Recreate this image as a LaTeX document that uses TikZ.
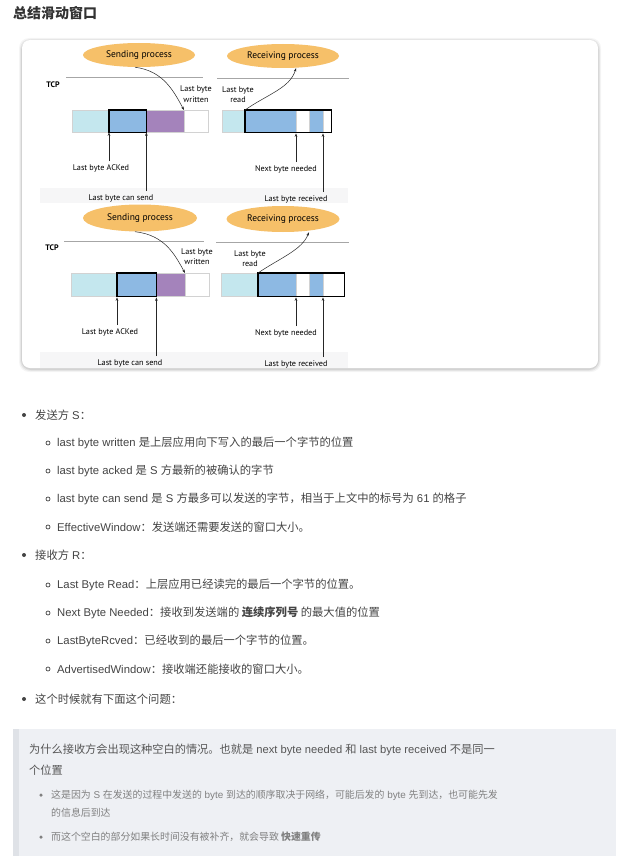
\documentclass[tikz,border=0pt]{standalone}
\usepackage{fontspec}
\setmainfont{Liberation Sans}
\newfontfamily\cjk{Noto Sans CJK SC}
\newfontfamily\dgf{PT Sans}
\usetikzlibrary{arrows.meta,shapes.geometric}
\definecolor{tx}{HTML}{444444}
\definecolor{ttl}{HTML}{333333}
\definecolor{qbg}{HTML}{EEF0F4}
\definecolor{qbar}{HTML}{DFE2E7}
\definecolor{qtx}{HTML}{555555}
\definecolor{qsub}{HTML}{808080}
\definecolor{cyanseg}{HTML}{C4E7EE}
\definecolor{blueseg}{HTML}{8DB9E3}
\definecolor{purpseg}{HTML}{A483BB}
\definecolor{orng}{HTML}{F6C069}
\definecolor{bandgray}{HTML}{F6F6F7}
\begin{document}
\begin{tikzpicture}[x=1pt,y=-1pt,
  txt/.style={anchor=west,inner sep=0,font=\fontsize{11.3}{14}\selectfont,text=tx},
  qtxt/.style={anchor=west,inner sep=0,font=\fontsize{11.2}{14}\selectfont,text=qtx},
  qsubtxt/.style={anchor=west,inner sep=0,font=\fontsize{9.9}{13}\selectfont,text=qsub},
  dot/.style={circle,fill=tx,inner sep=0,minimum size=4},
  odot/.style={circle,draw=tx,line width=0.7pt,inner sep=0,minimum size=4},
  qdot/.style={circle,fill=qsub,inner sep=0,minimum size=3.5},
  proc/.style={ellipse,fill=orng,inner sep=0,font=\dgf\fontsize{9.5}{11}\selectfont,text=black},
  lbl/.style={inner sep=0,font=\dgf\fontsize{8.2}{10.5}\selectfont,text=black,align=center},
  seg/.style={draw=gray!35,line width=0.4pt,inner sep=0,anchor=north west},
  thick/.style={draw=black,line width=1.1pt},
  arr/.style={draw=black!85,line width=0.5pt,-{Stealth[length=3.5pt,width=2.6pt]}},
  rule/.style={draw=gray!70,line width=0.5pt}]
\useasboundingbox (0,0) rectangle (616,856);
\fill[white] (0,0) rectangle (616,856);

% title
\node[anchor=west,inner sep=0,font=\cjk\bfseries\fontsize{14}{16}\selectfont,text=ttl] (title) at (13,13) {总结滑动窗口};

% card with shadow
\foreach \s/\o in {3/0.04,2/0.06,1/0.08}{
  \fill[black,opacity=\o,rounded corners=10] (22-\s,40-\s+1) rectangle (598+\s,368+\s+1);
}
\fill[white,rounded corners=8] (22,40) rectangle (598,368);

% gray bands at the bottom of each picture
\fill[bandgray] (40,188) rectangle (348,203);
\fill[bandgray] (40,352) rectangle (348,368);

% ================= diagram 1 =================
\node[proc,minimum width=112,minimum height=24] (sp1) at (139,55) {Sending process};
\node[proc,minimum width=112,minimum height=24] (rp1) at (283,56) {Receiving process};
\coordinate (l1a) at (66,77); \coordinate (l1b) at (203,77);
\coordinate (l1c) at (217,78); \coordinate (l1d) at (349,78);
\draw[rule] (l1a) -- (l1b);
\draw[rule] (l1c) -- (l1d);
\node[lbl,font=\dgf\bfseries\fontsize{8}{10}\selectfont] (tcp1) at (53,85) {TCP};
\node[lbl] (lbw1) at (196,94) {Last byte\\written};
\node[lbl] (lbr1) at (238,94.5) {Last byte\\read};

\node[seg,fill=cyanseg,minimum width=37,minimum height=22] (a1) at (72,110) {};
\node[seg,fill=blueseg,minimum width=37,minimum height=22] (b1) at (109,110) {};
\node[seg,fill=purpseg,minimum width=38,minimum height=22] (c1) at (146,110) {};
\node[seg,fill=white,minimum width=24,minimum height=22] (d1) at (184,110) {};
\draw[thick] (b1.north west) rectangle (b1.south east);

\node[seg,fill=cyanseg,minimum width=23,minimum height=22] (ra1) at (222,110) {};
\node[seg,fill=blueseg,minimum width=51,minimum height=22] (rb1) at (245,110) {};
\node[seg,fill=white,minimum width=13,minimum height=22] (rc1) at (296,110) {};
\node[seg,fill=blueseg,minimum width=14,minimum height=22] (rd1) at (309,110) {};
\node[seg,fill=white,minimum width=8,minimum height=22] (re1) at (323,110) {};
\draw[thick] (rb1.north west) rectangle (re1.south east);

\node[lbl] (ack1) at (101,168) {Last byte ACKed};
\node[lbl] (cs1) at (121,198) {Last byte can send};
\node[lbl] (nbn1) at (286,169) {Next byte needed};
\node[lbl] (lbrc1) at (296,199) {Last byte received};
\draw[arr] (b1.south west |- ack1.north) ++(0,-3) -- (b1.south west);
\draw[arr] (b1.south east |- cs1.north) ++(0,-3) -- (b1.south east);
\draw[arr] (rc1.south west |- nbn1.north) ++(0,-3) -- ([yshift=-1pt]rc1.south west);
\draw[arr] (re1.south west |- lbrc1.north) ++(0,-3) -- ([yshift=-1pt]re1.south west);

\draw[arr] ([xshift=-4pt]sp1.south) .. controls (164,71) and (174,92) .. (d1.north west);
\draw[arr] (rb1.north west) .. controls (268,94) and (290,88) .. ([xshift=13pt]rp1.south);

% ================= diagram 2 =================
\node[proc,minimum width=114,minimum height=27] (sp2) at (140,218) {Sending process};
\node[proc,minimum width=113,minimum height=26] (rp2) at (283,219) {Receiving process};
\coordinate (l2a) at (64,241); \coordinate (l2b) at (204,241);
\coordinate (l2c) at (216,242); \coordinate (l2d) at (349,242);
\draw[rule] (l2a) -- (l2b);
\draw[rule] (l2c) -- (l2d);
\node[lbl,font=\dgf\bfseries\fontsize{8}{10}\selectfont] (tcp2) at (52,248) {TCP};
\node[lbl] (lbw2) at (197,256.5) {Last byte\\written};
\node[lbl] (lbr2) at (250,258.5) {Last byte\\read};

\node[seg,fill=cyanseg,minimum width=46,minimum height=23] (a2) at (71,273) {};
\node[seg,fill=blueseg,minimum width=39,minimum height=23] (b2) at (117,273) {};
\node[seg,fill=purpseg,minimum width=29,minimum height=23] (c2) at (156,273) {};
\node[seg,fill=white,minimum width=24,minimum height=23] (d2) at (185,273) {};
\draw[thick] (b2.north west) rectangle (b2.south east);

\node[seg,fill=cyanseg,minimum width=37,minimum height=23] (ra2) at (221,273) {};
\node[seg,fill=blueseg,minimum width=38,minimum height=23] (rb2) at (258,273) {};
\node[seg,fill=white,minimum width=13,minimum height=23] (rc2) at (296,273) {};
\node[seg,fill=blueseg,minimum width=14,minimum height=23] (rd2) at (309,273) {};
\node[seg,fill=white,minimum width=21,minimum height=23] (re2) at (323,273) {};
\draw[thick] (rb2.north west) rectangle (re2.south east);

\node[lbl] (ack2) at (110,332) {Last byte ACKed};
\node[lbl] (cs2) at (130,363) {Last byte can send};
\node[lbl] (nbn2) at (286,333) {Next byte needed};
\node[lbl] (lbrc2) at (296,364) {Last byte received};
\draw[arr] (b2.south west |- ack2.north) ++(0,-3) -- ([yshift=-1pt]b2.south west);
\draw[arr] (b2.south east |- cs2.north) ++(0,-3) -- ([yshift=-1pt]b2.south east);
\draw[arr] (rc2.south west |- nbn2.north) ++(0,-3) -- ([yshift=-1pt]rc2.south west);
\draw[arr] (re2.south west |- lbrc2.north) ++(0,-3) -- ([yshift=-1pt]re2.south west);

\draw[arr] ([xshift=-5pt]sp2.south) .. controls (165,235) and (175,255) .. (d2.north west);
\draw[arr] (rb2.north west) .. controls (280,258) and (302,250) .. ([xshift=26pt]rp2.south);

% ================= text list =================
\node[dot] (d01) at (24,415) {};
\node[txt] (t01) at (35,415) {{\cjk 发送方} S{\cjk ：}};
\node[odot] (o02) at (48,443) {};
\node[txt] (t02) at (57,443) {last byte written {\cjk 是上层应用向下写入的最后一个字节的位置}};
\node[odot] (o03) at (48,471) {};
\node[txt] (t03) at (57,471) {last byte acked {\cjk 是} S {\cjk 方最新的被确认的字节}};
\node[odot] (o04) at (48,499) {};
\node[txt] (t04) at (57,499) {last byte can send {\cjk 是} S {\cjk 方最多可以发送的字节，相当于上文中的标号为} 61 {\cjk 的格子}};
\node[odot] (o05) at (48,527) {};
\node[txt] (t05) at (57,527) {EffectiveWindow{\cjk ：发送端还需要发送的窗口大小。}};
\node[dot] (d06) at (24,555) {};
\node[txt] (t06) at (35,555) {{\cjk 接收方} R{\cjk ：}};
\node[odot] (o07) at (48,585) {};
\node[txt] (t07) at (57,585) {Last Byte Read{\cjk ：上层应用已经读完的最后一个字节的位置。}};
\node[odot] (o08) at (48,613) {};
\node[txt] (t08) at (57,613) {Next Byte Needed{\cjk ：接收到发送端的 {\bfseries 连续序列号} 的最大值的位置}};
\node[odot] (o09) at (48,641) {};
\node[txt] (t09) at (57,641) {LastByteRcved{\cjk ：已经收到的最后一个字节的位置。}};
\node[odot] (o10) at (48,669) {};
\node[txt] (t10) at (57,669) {AdvertisedWindow{\cjk ：接收端还能接收的窗口大小。}};
\node[dot] (d11) at (24,699) {};
\node[txt] (t11) at (35,699) {{\cjk 这个时候就有下面这个问题：}};

% ================= blockquote =================
\fill[qbg] (13,729) rectangle (616,856);
\fill[qbar] (13,729) rectangle (19,856);
\node[qtxt] (q1) at (29,750) {{\cjk 为什么接收方会出现这种空白的情况。也就是} next byte needed {\cjk 和} last byte received {\cjk 不是同一}};
\node[qtxt] (q2) at (29,770) {{\cjk 个位置}};
\node[qdot] (qd1) at (41,795) {};
\node[qsubtxt] (q3) at (51,795) {{\cjk 这是因为} S {\cjk 在发送的过程中发送的} byte {\cjk 到达的顺序取决于网络，可能后发的} byte {\cjk 先到达，也可能先发}};
\node[qsubtxt] (q4) at (51,813) {{\cjk 的信息后到达}};
\node[qdot] (qd2) at (41,837) {};
\node[qsubtxt] (q5) at (51,837) {{\cjk 而这个空白的部分如果长时间没有被补齐，就会导致 {\bfseries 快速重传}}};
\end{tikzpicture}
\end{document}
